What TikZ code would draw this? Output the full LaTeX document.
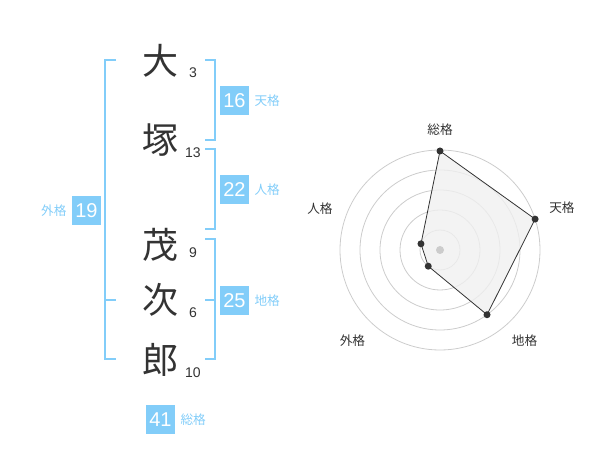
\documentclass[tikz,border=0pt]{standalone}
\usepackage{fontspec}
\setmainfont{Liberation Sans}
\newfontfamily\jpfont{Noto Sans CJK JP}
\definecolor{kakublue}{HTML}{82CDF9}
\definecolor{inkgrey}{HTML}{333333}
\definecolor{ringgrey}{HTML}{CCCCCC}
\definecolor{areagrey}{HTML}{F0F0F0}
\tikzset{
  kanji/.style={inner sep=0pt, text=inkgrey, font=\jpfont\fontsize{27}{27}\selectfont},
  strokes/.style={inner sep=0.75pt, text=inkgrey, font=\fontsize{10.5}{10.5}\selectfont},
  kakubox/.style={fill=kakublue, text=white, minimum width=29*0.75pt, minimum height=29*0.75pt, inner sep=0pt, font=\fontsize{15}{15}\selectfont},
  kakuname/.style={inner sep=0.75pt, text=kakublue, font=\jpfont\fontsize{9.5}{9.5}\selectfont},
  bracket/.style={draw=kakublue, line width=1.5pt},
  axisname/.style={inner sep=0.75pt, text=inkgrey, font=\jpfont\fontsize{9.5}{9.5}\selectfont},
  dot/.style={circle, fill=inkgrey, inner sep=0pt, minimum size=7*0.75pt}
}
\begin{document}
\begin{tikzpicture}[x=0.75pt,y=0.75pt,yscale=-1,xscale=1]
\useasboundingbox (0,0) rectangle (600,470);

% Name characters
\node[kanji] (dai) at (160,61) {大};
\node[kanji] (tsuka) at (160,140) {塚};
\node[kanji] (shige) at (160,245) {茂};
\node[kanji] (tsugu) at (160,300) {次};
\node[kanji] (rou) at (160,360) {郎};
% Stroke counts
\node[strokes] at (193,73) {3};
\node[strokes] at (193,153) {13};
\node[strokes] at (193,253) {9};
\node[strokes] at (193,313) {6};
\node[strokes] at (193,373) {10};

%Straight Lines: brackets
\draw[bracket] (116,60) -- (105,60) -- (105,359.5) -- (116,359.5);
\draw[bracket] (105,300) -- (116,300);
\draw[bracket] (205,60) -- (215,60) -- (215,140) -- (205,140);
\draw[bracket] (205,149.5) -- (215,149.5) -- (215,229.5) -- (205,229.5);
\draw[bracket] (205,239.5) -- (215,239.5) -- (215,359.5) -- (205,359.5);
\draw[bracket] (215,300) -- (205,300);

% Fortune boxes
\node[kakubox] (ten) at (234.5,100.5) {16};
\node[kakuname, anchor=west] at (ten.east) [xshift=3pt] {天格};
\node[kakubox] (jin) at (234.5,190) {22};
\node[kakuname, anchor=west] at (jin.east) [xshift=3pt] {人格};
\node[kakubox] (chi) at (234.5,300.5) {25};
\node[kakuname, anchor=west] at (chi.east) [xshift=3pt] {地格};
\node[kakubox] (gai) at (86.5,210.5) {19};
\node[kakuname, anchor=east] at (gai.west) [xshift=-3pt] {外格};
\node[kakubox] (sou) at (160.5,419.5) {41};
\node[kakuname, anchor=west] at (sou.east) [xshift=3pt] {総格};

% Radar chart
\begin{scope}[shift={(440,250)},yscale=-1]
\foreach \r in {20,40,60,80,100}
  \draw[ringgrey, line width=0.6pt] (0,0) circle (\r);
\coordinate (psou) at (90:99);
\coordinate (pten) at (18:100);
\coordinate (pchi) at (-54:80);
\coordinate (pgai) at (-126:20);
\coordinate (pjin) at (162:20);
\draw[fill=areagrey, fill opacity=0.8, draw=inkgrey, line width=0.6pt] (psou) -- (pten) -- (pchi) -- (pgai) -- (pjin) -- cycle;
\fill[ringgrey] (0,0) circle (4);
\foreach \p in {psou,pten,pchi,pgai,pjin}
  \node[dot] at (\p) {};
% Text Node
\node[axisname] (lsou) at (90:120) {総格};
\node[axisname] (lten) at (19:129) {天格};
\node[axisname] (lchi) at (-47:124) {地格};
\node[axisname] (lgai) at (-134:126) {外格};
\node[axisname] (ljin) at (161:127) {人格};
\end{scope}
\end{tikzpicture}
\end{document}
